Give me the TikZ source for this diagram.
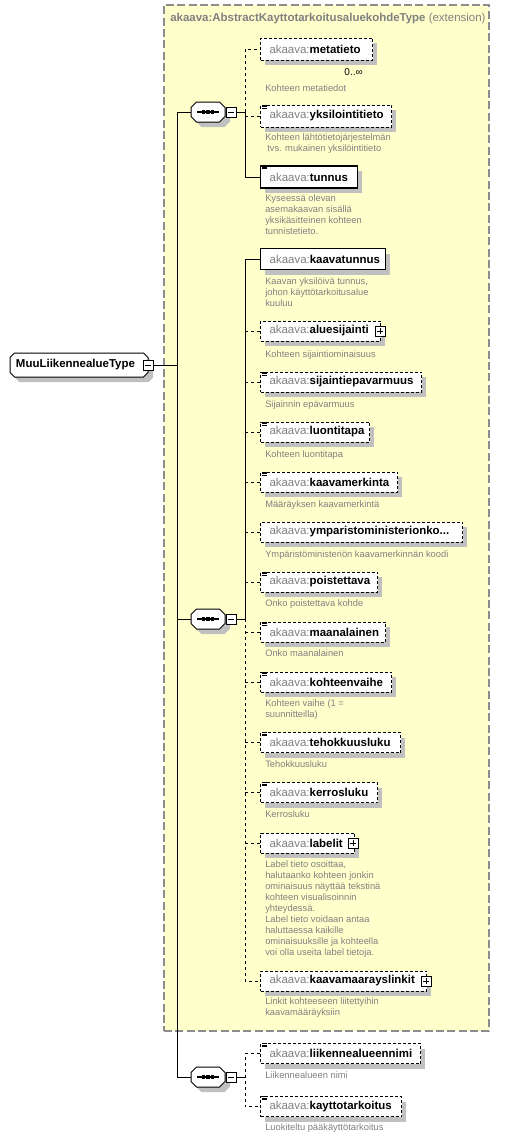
\documentclass[tikz,border=0pt]{standalone}
\usepackage{fontspec}
\setmainfont{Liberation Sans}
\usetikzlibrary{calc}
\definecolor{boxyellow}{RGB}{255,255,204}
\definecolor{txtgray}{RGB}{128,128,128}
\definecolor{shadowgray}{RGB}{192,192,192}
\definecolor{framegray}{RGB}{140,140,140}
\newcommand\akn[1]{{\color{txtgray}akaava:}\textbf{#1}}
\newcommand\elfont{\fontsize{8.6}{10}\selectfont}
\newcommand\dsfont{\fontsize{7}{8.25}\selectfont}
\newcommand\docicon[1]{\foreach \dy in {0.55,1.55,2.55}{\draw[line width=0.4pt] ([xshift=1.5pt,yshift=-\dy pt]#1.north west) -- ++(3.75pt,0pt);}}
% octagon: cx cy halfwidth halfheight chamfer style (px units)
\newcommand\octo[6]{\path[#6] ({#1-#3},{#2-#4+#5}) -- ({#1-#3+#5},{#2-#4}) -- ({#1+#3-#5},{#2-#4}) -- ({#1+#3},{#2-#4+#5}) -- ({#1+#3},{#2+#4-#5}) -- ({#1+#3-#5},{#2+#4}) -- ({#1-#3+#5},{#2+#4}) -- ({#1-#3},{#2+#4-#5}) -- cycle;}
% element box: name, width px, center y px, height px, style, content
\newcommand\elbox[6]{\fill[shadowgray] (265,{#3-#4/2+5}) rectangle ({265+#2},{#3+#4/2+5});
  \node[el,#5,ew=#2,eh=#4] (#1) at (260,#3) {#6};}
% sequence compositor: name, cx, cy
\newcommand\seqnode[3]{\octo{#2+5}{#3+5}{17}{10}{5.5}{fill=shadowgray}
  \octo{#2}{#3}{17}{10}{5.5}{draw, fill=white, line width=0.75pt}
  \node[seqbox] (#1) at (#2,#3) {};
  \draw[line width=0.9pt] ([xshift=-8.25pt]#1.center) -- ([xshift=8.25pt]#1.center);
  \foreach \sx in {-4.55,-1.3,1.95}{\fill[black] ([xshift=\sx pt,yshift=-1.3pt]#1.center) rectangle ++(2.6pt,2.6pt);}}
\tikzset{
  el/.style={draw, fill=white, line width=0.75pt, rectangle, anchor=west, inner xsep=6.75pt, inner ysep=0pt, align=left, font=\elfont, minimum height=15pt},
  ew/.code={\pgfmathsetmacro\tmpw{(#1-18)*0.75}\tikzset{text width=\tmpw pt}},
  eh/.code={\pgfmathsetmacro\tmph{#1*0.75}\tikzset{minimum height=\tmph pt}},
  opt/.style={dash pattern=on 2.25pt off 1.5pt},
  req/.style={line width=1pt},
  desc/.style={anchor=north west, inner sep=0pt, align=left, font=\dsfont, text=txtgray, execute at begin node=\strut},
  conn/.style={line width=0.75pt},
  dconn/.style={line width=0.75pt, dash pattern=on 2.25pt off 2.25pt},
  pmbox/.style={draw, fill=white, line width=0.75pt, minimum size=7.5pt, inner sep=0pt},
  minusbox/.style={pmbox, path picture={\draw[black, line width=0.75pt] ([xshift=1.6pt]path picture bounding box.west) -- ([xshift=-1.6pt]path picture bounding box.east);}},
  plusbox/.style={pmbox, path picture={\draw[black, line width=0.75pt] ([xshift=1.6pt]path picture bounding box.west) -- ([xshift=-1.6pt]path picture bounding box.east); \draw[black, line width=0.75pt] ([yshift=-1.6pt]path picture bounding box.north) -- ([yshift=1.6pt]path picture bounding box.south);}},
  seqbox/.style={rectangle, draw=none, minimum width=25.5pt, minimum height=15pt, inner sep=0pt},
  rootn/.style={rectangle, draw=none, font=\elfont\bfseries, minimum height=18pt, text width=94.5pt, inner xsep=4.5pt, inner ysep=0pt, align=left},
  extbox/.style={draw=framegray, fill=boxyellow, line width=1pt, dash pattern=on 6pt off 2.5pt, minimum width=243.75pt, minimum height=769.5pt, inner sep=0pt}
}
\begin{document}
\begin{tikzpicture}[x=0.75pt,y=-0.75pt]
\useasboundingbox (0,0) rectangle (532,1136);
% extension container
\node[extbox] (ext) at (326.5,518) {};
\node[anchor=west, font=\elfont, text=txtgray, inner sep=0pt] (title) at (170,19) {\textbf{akaava:AbstractKayttotarkoitusaluekohdeType} (extension)};

% root
\octo{84}{370}{69}{12}{4.5}{fill=shadowgray}
\octo{79}{365}{69}{12}{4.5}{draw, fill=white, line width=0.75pt}
\node[rootn] (root) at (79,365) {MuuLiikennealueType};
\node[minusbox] (rm) at (148,365) {};

% sequences
\seqnode{s1}{208}{112}
\node[minusbox] (s1m) at (231,112) {};
\seqnode{s2}{208}{619}
\node[minusbox] (s2m) at (231,619) {};
\seqnode{s3}{208}{1077}
\node[minusbox] (s3m) at (231,1077) {};
\coordinate (tr) at (177,365);
\coordinate (b1) at (245,112);
\coordinate (b2) at (245,619);
\coordinate (b3) at (245,1077);

% group 1
\elbox{meta}{112}{49}{22}{opt}{\akn{metatieto}}
\node[anchor=east, inner sep=0pt, font=\fontsize{7.5}{9}\selectfont] (mult) at (363,72) {0..∞};
\node[desc] (dmeta) at (265,83.5) {Kohteen metatiedot};
\elbox{yks}{131}{116}{22}{opt}{\akn{yksilointitieto}}
\docicon{yks}
\node[desc] (dyks) at (265,133.5) {Kohteen lähtötietojärjestelmän\\\hspace*{1.5pt}tvs. mukainen yksilöintitieto};
\elbox{tun}{97}{177}{22}{req}{\akn{tunnus}}
\docicon{tun}
\node[desc] (dtun) at (265,194.5) {Kyseessä olevan\\asemakaavan sisällä\\yksikäsitteinen kohteen\\tunnistetieto.};

% group 2
\elbox{kt}{125}{259}{21}{req}{\akn{kaavatunnus}}
\node[desc] (dkt) at (265,277.5) {Kaavan yksilöivä tunnus,\\johon käyttötarkoitusalue\\kuuluu};
\elbox{alue}{120}{331}{20}{opt}{\akn{aluesijainti}}
\node[plusbox] (aluep) at ([xshift=-0.75pt]alue.east) {};
\node[desc] (dalue) at (265,349.5) {Kohteen sijaintiominaisuus};
\elbox{sij}{161}{382}{20}{opt}{\akn{sijaintiepavarmuus}}
\docicon{sij}
\node[desc] (dsij) at (265,399.5) {Sijainnin epävarmuus};
\elbox{luo}{109}{432}{20}{opt}{\akn{luontitapa}}
\docicon{luo}
\node[desc] (dluo) at (265,449.5) {Kohteen luontitapa};
\elbox{km}{137}{482}{20}{opt}{\akn{kaavamerkinta}}
\docicon{km}
\node[desc] (dkm) at (265,499.5) {Määräyksen kaavamerkintä};
\elbox{ymp}{202}{532}{20}{opt}{\akn{ymparistoministerionko...}}
\node[desc] (dymp) at (265,549.5) {Ympäristöministeriön kaavamerkinnän koodi};
\elbox{poi}{117}{582}{20}{opt}{\akn{poistettava}}
\docicon{poi}
\node[desc] (dpoi) at (265,598.5) {Onko poistettava kohde};
\elbox{maa}{125}{632}{20}{opt}{\akn{maanalainen}}
\docicon{maa}
\node[desc] (dmaa) at (265,648.5) {Onko maanalainen};
\elbox{kv}{131}{682}{20}{opt}{\akn{kohteenvaihe}}
\docicon{kv}
\node[desc] (dkv) at (265,699.5) {Kohteen vaihe (1 =\\suunnitteilla)};
\elbox{teh}{140}{742.5}{20}{opt}{\akn{tehokkuusluku}}
\docicon{teh}
\node[desc] (dteh) at (265,759.5) {Tehokkuusluku};
\elbox{ker}{117}{792.5}{20}{opt}{\akn{kerrosluku}}
\docicon{ker}
\node[desc] (dker) at (265,809.5) {Kerrosluku};
\elbox{lab}{94}{843}{20}{opt}{\akn{labelit}}
\node[plusbox] (labp) at ([xshift=-1.5pt]lab.east) {};
\node[desc] (dlab) at (265,860.5) {Label tieto osoittaa,\\halutaanko kohteen jonkin\\ominaisuus näyttää tekstinä\\kohteen visualisoinnin\\yhteydessä.\\Label tieto voidaan antaa\\haluttaessa kaikille\\ominaisuuksille ja kohteella\\voi olla useita label tietoja.};
\elbox{kml}{166}{981}{20}{opt}{\akn{kaavamaarayslinkit}}
\node[plusbox] (kmlp) at ([xshift=-0.75pt]kml.east) {};
\node[desc] (dkml) at (265,997.5) {Linkit kohteeseen liitettyihin\\kaavamääräyksiin};

% group 3
\elbox{lan}{160}{1053.5}{20}{opt}{\akn{liikennealueennimi}}
\docicon{lan}
\node[desc] (dlan) at (265,1070.5) {Liikennealueen nimi};
\elbox{kay}{141}{1106.5}{20}{opt}{\akn{kayttotarkoitus}}
\docicon{kay}
\node[desc] (dkay) at (265,1122.5) {Luokiteltu pääkäyttötarkoitus};

% trunk
\draw[conn] (rm.east) -- (rm.east -| tr);
\draw[conn] (s1.west) -- (s1.west -| tr) -- (s3.west -| tr) -- (s3.west);
\draw[conn] (s2.west) -- (s2.west -| tr);
\draw[conn] (s1m.east) -- (b1);
\draw[conn] (s2m.east) -- (b2);
\draw[conn] (s3m.east) -- (b3);

% bus 1
\draw[dconn] (b1) -- (meta.west -| b1) -- (meta.west);
\draw[conn] (b1) -- (tun.west -| b1) -- (tun.west);
\draw[dconn] (yks.west -| b1) -- (yks.west);

% bus 2
\draw[conn] (b2) -- (kt.west -| b2) -- (kt.west);
\draw[dconn] (b2) -- (kml.west -| b2) -- (kml.west);
\foreach \n in {alue,sij,luo,km,ymp,poi,maa,kv,teh,ker,lab}{\draw[dconn] (\n.west -| b2) -- (\n.west);}

% bus 3
\draw[dconn] (lan.west) -- (lan.west -| b3) -- (kay.west -| b3) -- (kay.west);
\end{tikzpicture}
\end{document}
